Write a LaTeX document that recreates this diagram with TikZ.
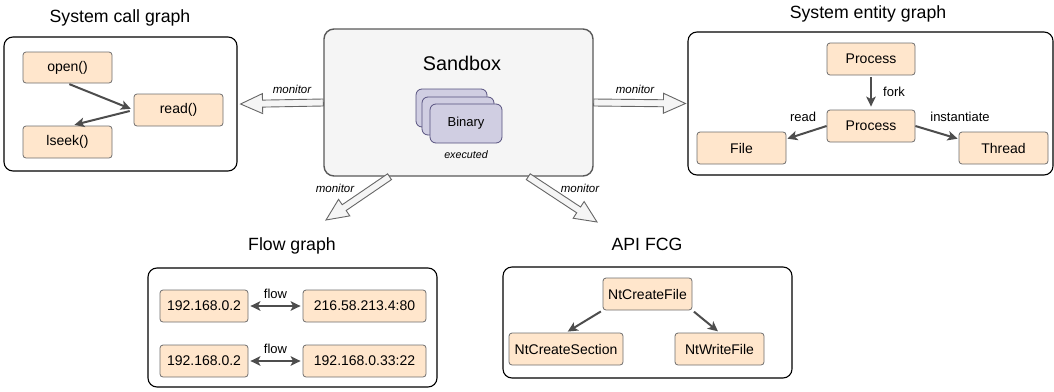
\documentclass[tikz,border=0pt]{standalone}
\usepackage{fontspec}
\setmainfont{Liberation Sans}
\usepackage{tikz}
\usetikzlibrary{positioning}
\usetikzlibrary{calc}
\usetikzlibrary{arrows.meta}
\tikzset{>=stealth}
\definecolor{entfill}{HTML}{FFE6CC}
\definecolor{entdraw}{HTML}{6E6E6E}
\definecolor{binfill}{HTML}{D0CEE2}
\definecolor{bindraw}{HTML}{56517E}
\definecolor{boxfill}{HTML}{F5F5F5}
\definecolor{edgecol}{HTML}{4D4D4D}
\tikzstyle{line} = [draw=edgecol, line width=2pt, -{Stealth[length=10pt,width=9.5pt,inset=2.5pt]}]
\tikzstyle{dline} = [draw=edgecol, line width=2pt, {Stealth[length=10pt,width=9.5pt,inset=2.5pt]}-{Stealth[length=10pt,width=9.5pt,inset=2.5pt]}]
% hollow block arrow from #1 to #2
\newcommand{\monitorarrow}[2]{%
  \coordinate (mh) at ($(#2)!22pt!(#1)$);
  \path[fill=boxfill, draw=black!60, line width=0.9pt]
    ($(#1)!3.5pt!90:(#2)$) -- ($(mh)!3.5pt!90:(#2)$) -- ($(mh)!10pt!90:(#2)$)
    -- (#2) -- ($(mh)!10pt!-90:(#2)$) -- ($(mh)!3.5pt!-90:(#2)$)
    -- ($(#1)!3.5pt!-90:(#2)$) -- cycle;
}

\begin{document}
\begin{tikzpicture}[x=1pt, y=-1pt,
      auto,
      ent/.style={draw=entdraw, fill=entfill, rounded corners=3pt, line width=0.8pt,
      minimum width=89pt, minimum height=32pt, inner sep=0pt,
      font=\fontsize{14}{16}\selectfont},
      group/.style={draw=black, rounded corners=9pt, inner sep=0pt, line width=1.1pt},
      gtitle/.style={font=\fontsize{17.7}{20}\selectfont},
      mon/.style={font=\fontsize{11.5}{13}\selectfont\itshape},
      elabel/.style={font=\fontsize{13}{15}\selectfont},
      bin/.style={draw=bindraw, fill=binfill, rounded corners=6pt, line width=0.8pt,
      minimum width=72pt, minimum height=38pt, inner sep=0pt}]
    \useasboundingbox (0,0) rectangle (1054,391);
    %% Sandbox
    \node [group, fill=boxfill, draw=black!65, line width=1.4pt, rounded corners=10pt,
      minimum width=269pt, minimum height=147pt] (sandbox) at (458.5,102.5) {};
    \node [font=\fontsize{19.8}{22}\selectfont] (sbtitle) at (462,63) {Sandbox};
    \node [bin, minimum width=71pt] (bin3) at (451.5,108) {};
    \node [bin] (bin2) at (458,116) {};
    \node [bin, minimum height=39pt, font=\fontsize{13}{15}\selectfont] (bin1) at (466,123.5) {Binary};
    \node [font=\fontsize{10.7}{12}\selectfont\itshape] (exec) at (466,155) {executed};
    %% System call graph
    \node [group, minimum width=233pt, minimum height=134pt] (callbox) at (120.5,104) {};
    \node [gtitle] (calltitle) at (120,18) {System call graph};
    \node [ent, minimum height=31pt] (open) at (67.5,67.5) {open()};
    \node [ent] (read) at (178.5,110) {read()};
    \node [ent] (lseek) at (67.5,142) {lseek()};
    \path [line, shorten <=2pt, shorten >=3pt] (open.south) to (read.west);
    \path [line, shorten <=4pt, shorten >=3pt] (read.west) to ([xshift=4pt]lseek.north);
    %% System entity graph
    \node [group, minimum width=365pt, minimum height=143pt] (entbox) at (870.5,103.5) {};
    \node [gtitle] (enttitle) at (868,14) {System entity graph};
    \node [ent, minimum width=88pt] (proc1) at (871,59) {Process};
    \node [ent, minimum width=88pt] (proc2) at (871,126) {Process};
    \node [ent] (file) at (741.5,148) {File};
    \node [ent] (thread) at (1003.5,148) {Thread};
    \path [line, shorten <=2pt, shorten >=3pt] (proc1.south) to (proc2.north);
    \path [line, shorten >=1pt] (proc2.west) to ($(file.north east)!0.45!(file.east)$);
    \path [line, shorten >=1pt] (proc2.east) to ($(thread.north west)!0.45!(thread.west)$);
    \node [elabel] (forklabel) at (894,92) {fork};
    \node [elabel] (readlabel) at (803,117) {read};
    \node [elabel] (instlabel) at (960,117) {instantiate};
    %% Flow graph
    \node [group, minimum width=289pt, minimum height=119pt] (flowbox) at (292.5,327.5) {};
    \node [gtitle] (flowtitle) at (292,246) {Flow graph};
    \node [ent, minimum width=88pt] (hostA) at (204,306) {192.168.0.2};
    \node [ent, minimum width=123pt] (hostB) at (364.5,306) {216.58.213.4:80};
    \node [ent, minimum width=88pt] (hostC) at (204,361) {192.168.0.2};
    \node [ent, minimum width=123pt] (hostD) at (364.5,361) {192.168.0.33:22};
    \path [dline, shorten <=2pt, shorten >=2pt] (hostA.east) to node [elabel, above=3pt] (flowA) {flow} (hostB.west);
    \path [dline, shorten <=2pt, shorten >=2pt] (hostC.east) to node [elabel, above=3pt] (flowB) {flow} (hostD.west);
    %% API FCG
    \node [group, minimum width=289pt, minimum height=111pt] (apibox) at (647.5,322.5) {};
    \node [gtitle] (apititle) at (647,244) {API FCG};
    \node [ent] (ntcf) at (647.5,294) {NtCreateFile};
    \node [ent, minimum width=114pt] (ntcs) at (566,349) {NtCreateSection};
    \node [ent] (ntwf) at (719.5,349) {NtWriteFile};
    \path [line, shorten <=2pt, shorten >=2pt] (ntcf.south west) to (ntcs.north);
    \path [line, shorten <=2pt, shorten >=2pt] (ntcf.south east) to (ntwf.north);
    %% monitor arrows
    \coordinate (monL) at ([xshift=3pt]callbox.east);
    \coordinate (monR) at ([xshift=-2pt]entbox.west);
    \coordinate (monDLs) at ($(sandbox.south west)!0.245!(sandbox.south east)$);
    \coordinate (monDRs) at ($(sandbox.south west)!0.758!(sandbox.south east)$);
    \coordinate (monDL) at (326,220);
    \coordinate (monDR) at (597,222);
    \monitorarrow{sandbox.west}{monL}
    \monitorarrow{sandbox.east}{monR}
    \monitorarrow{monDLs}{monDL}
    \monitorarrow{monDRs}{monDR}
    \node [mon] (monlabL) at (292,89) {monitor};
    \node [mon] (monlabR) at (635,89) {monitor};
    \node [mon] (monlabDL) at (335,188) {monitor};
    \node [mon] (monlabDR) at (580,188) {monitor};
  \end{tikzpicture}
\end{document}
